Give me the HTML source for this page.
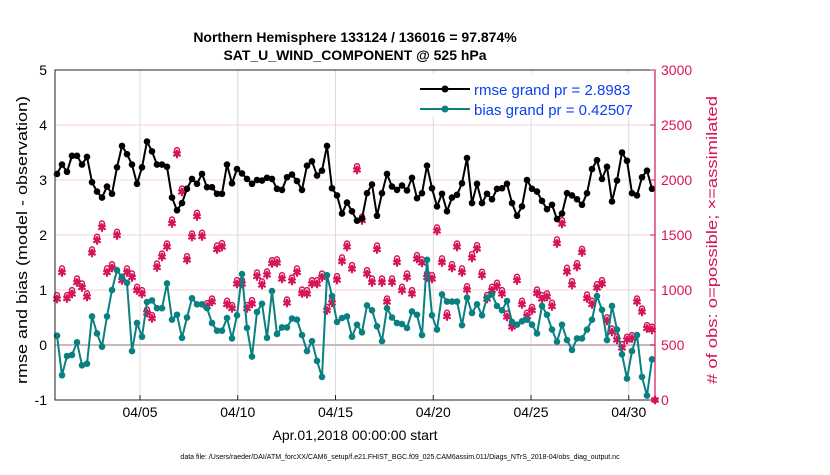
<!DOCTYPE html>
<html><head><meta charset="utf-8"><style>
body{margin:0;background:#fff;}
svg text{font-family:"Liberation Sans",Arial,sans-serif;}
</style></head><body>
<svg id="chart" width="830" height="470" viewBox="0 0 830 470" xmlns="http://www.w3.org/2000/svg">
<text x="355" y="42" text-anchor="middle" font-size="14" font-weight="bold">Northern Hemisphere 133124 / 136016 = 97.874%</text>
<text x="355" y="60" text-anchor="middle" font-size="14" font-weight="bold">SAT_U_WIND_COMPONENT @ 525 hPa</text>
<g id="grid"></g>
<g id="marks"></g>
<g id="axes"></g>
<text transform="translate(27,240) rotate(-90)" text-anchor="middle" font-size="15" textLength="288" lengthAdjust="spacingAndGlyphs">rmse and bias (model - observation)</text>
<text transform="translate(717,240) rotate(-90)" text-anchor="middle" font-size="15" textLength="288" lengthAdjust="spacingAndGlyphs" fill="#d6145a"># of obs: o=possible; ×=assimilated</text>
<text x="355" y="440" text-anchor="middle" font-size="14">Apr.01,2018 00:00:00 start</text>
<text x="400" y="459" text-anchor="middle" font-size="7">data file: /Users/raeder/DAI/ATM_forcXX/CAM6_setup/f.e21.FHIST_BGC.f09_025.CAM6assim.011/Diags_NTrS_2018-04/obs_diag_output.nc</text>
<g>
<rect x="415" y="74" width="227" height="42" fill="#fff" stroke="#fff"/>
<line x1="420" y1="89" x2="470" y2="89" stroke="#000" stroke-width="2"/>
<circle cx="445" cy="89" r="3.5" fill="#000"/>
<text x="474" y="95" font-size="15" fill="#0a3ff5">rmse grand pr = 2.8983</text>
<line x1="420" y1="109" x2="470" y2="109" stroke="#0a8080" stroke-width="2"/>
<circle cx="445" cy="109" r="3.5" fill="#0a8080"/>
<text x="474" y="115" font-size="15" fill="#0a3ff5">bias grand pr = 0.42507</text>
</g>
</svg>
<script>
const rmseValues=[3.11,3.28,3.15,3.44,3.44,3.28,3.42,2.96,2.79,2.68,2.88,2.75,3.23,3.62,3.47,3.28,2.93,3.23,3.70,3.52,3.28,3.28,3.24,2.68,2.45,2.58,2.84,3.02,2.93,3.11,2.87,
2.87,2.75,2.75,3.28,2.94,3.20,3.12,3.02,2.93,3.00,2.99,3.04,3.02,2.84,2.82,3.05,3.10,2.98,2.82,3.26,3.34,3.08,3.17,3.62,2.85,2.72,2.39,2.59,2.43,2.26,
2.30,2.76,2.92,2.35,2.76,3.11,2.88,2.82,2.90,2.81,3.04,2.67,2.76,3.26,2.85,2.52,2.75,2.43,2.68,2.73,2.94,3.40,2.58,2.93,2.58,2.75,2.65,2.84,2.85,2.93,
2.58,2.35,2.52,3.00,2.84,2.79,2.62,2.47,2.55,2.29,2.39,2.76,2.72,2.65,2.55,2.76,3.20,3.36,3.02,3.24,2.61,2.99,3.50,3.35,2.76,2.72,3.05,3.17,2.84];
const biasValues=[0.17,-0.55,-0.2,-0.18,0.05,-0.37,-0.34,0.52,0.21,-0.03,0.52,1.0,1.36,1.23,1.13,-0.11,0.4,0.15,0.78,0.81,0.67,0.67,1.12,0.46,0.55,0.13,0.5,0.85,0.74,0.74,0.67,
0.40,0.26,0.26,0.49,0.12,0.54,1.29,0.31,-0.21,0.60,0.75,0.13,0.98,0.20,0.32,0.32,0.48,0.46,0.18,-0.11,0.07,-0.29,-0.58,1.27,0.89,0.42,0.49,0.52,0.15,0.37,
0.23,0.72,0.63,0.34,0.07,0.67,0.50,0.40,0.38,0.31,0.61,0.55,0.18,1.55,0.54,0.28,0.92,0.79,0.79,0.79,0.36,0.86,0.58,0.74,0.54,0.86,0.92,0.71,0.63,0.80,
0.42,0.37,0.43,0.46,0.37,0.21,0.71,0.55,0.28,0.06,0.37,0.09,-0.09,0.12,0.12,0.28,0.46,0.89,0.64,0.09,0.71,0.28,-0.17,-0.61,-0.11,0.18,-0.58,-0.92,-0.26];
const obsPossible=[954,1197,954,1000,1106,1060,970,1370,1485,1606,1197,1236,1530,1121,1197,1151,1030,1000,824,773,1242,1333,1424,1642,2272,1924,1309,1515,1703,1521,882,
924,1406,1427,903,863,1091,1091,863,909,1160,1079,1170,1273,1279,1136,915,1115,1197,1006,1000,1091,1091,1151,848,915,1127,1297,1424,1227,2127,
1667,1182,1106,1406,1106,924,1106,1288,1030,1151,1000,1318,1279,1151,1136,1570,1288,794,1236,1424,1197,1036,1327,1409,1167,954,1030,1067,1000,788,
697,1121,903,794,848,1006,954,970,885,1461,1636,1203,1082,1245,1375,960,903,1054,1091,752,651,576,509,576,591,924,833,682,667,0];
const obsAssim=[920,1160,925,965,1070,1025,935,1335,1450,1570,1160,1200,1495,1085,1160,1115,995,965,790,740,1205,1300,1390,1605,2235,1890,1275,1480,1670,1485,848,
890,1370,1390,870,830,1055,1055,830,875,1125,1045,1135,1240,1245,1100,880,1080,1160,970,965,1055,1055,1115,815,880,1090,1260,1390,1190,2090,
1630,1145,1070,1370,1070,890,1070,1250,995,1115,965,1280,1245,1115,1100,1535,1250,760,1200,1390,1160,1000,1290,1375,1130,920,995,1030,965,755,
665,1085,870,760,815,970,920,935,850,1425,1600,1165,1045,1210,1340,925,870,1020,1055,720,620,545,475,545,560,890,800,650,635,0];
const leftTicks=[-1,0,1,2,3,4,5];
const rightTicks=[0,500,1000,1500,2000,2500,3000];
const dateTickDays=[5,10,15,20,25,30];
const dateTickLabels=["04/05","04/10","04/15","04/20","04/25","04/30"];

const L=55,R=655,T=70,B=400;
const yL=v=>B-(v+1)*(B-T)/6;
const yR=v=>B-v*(B-T)/3000;
const xI=i=>Math.min(57+i*(595/119),R);
const xD=d=>140+(d-5)*19.55;
const NS="http://www.w3.org/2000/svg";
function mk(parent,tag,attrs){const e=document.createElementNS(NS,tag);for(const k in attrs)e.setAttribute(k,attrs[k]);document.getElementById(parent).appendChild(e);return e;}

leftTicks.forEach(v=>{
 const g=mk('grid','line',{x1:L,x2:R,y1:yL(v),y2:yL(v),stroke:'#f5cfe0','stroke-width':1});
 
 
});
dateTickDays.forEach(d=>{
 const g=mk('grid','line',{x1:xD(d),x2:xD(d),y1:T,y2:B,stroke:'#dcdcdc','stroke-width':1});
 
 
});
const zl=mk('grid','line',{x1:L,x2:R,y1:yL(0),y2:yL(0),stroke:'#c9b8bd','stroke-width':2});



obsPossible.forEach((v,i)=>{
 const a=obsAssim[i];
 const s=mk('marks','text',{x:xI(i),y:yR(a)+4,'text-anchor':'middle','font-size':11,'font-weight':'bold',fill:'#d6145a'});
 s.textContent='✱';
 
 
 const c=mk('marks','circle',{cx:xI(i),cy:yR(v),r:2.4,fill:'none',stroke:'#d6145a','stroke-width':1.5});
 
 
});
function series(vals,color,name){
 const p=mk('marks','polyline',{points:vals.map((v,i)=>xI(i)+','+yL(v)).join(' '),fill:'none',stroke:color,'stroke-width':2});
 
 
 vals.forEach((v,i)=>{
  const c=mk('marks','circle',{cx:xI(i),cy:yL(v),r:3.3,fill:color});
  
  
 });
}
series(biasValues,'#0a8080','bias');
series(rmseValues,'#000','rmse');

const box=mk('axes','rect',{x:L,y:T,width:R-L,height:B-T,fill:'none',stroke:'#222','stroke-width':1});


const rax=mk('axes','line',{x1:R,x2:R,y1:T,y2:B,stroke:'#d6145a','stroke-width':1.2});


leftTicks.forEach(v=>{
 const t=mk('axes','text',{x:L-8,y:yL(v)+5,'text-anchor':'end','font-size':14});
 t.textContent=v;
 
 
});
rightTicks.forEach(v=>{
 const tk=mk('axes','line',{x1:R-5,x2:R,y1:yR(v),y2:yR(v),stroke:'#d6145a'});
 
 
 const t=mk('axes','text',{x:R+6,y:yR(v)+5,'font-size':14,fill:'#d6145a'});
 t.textContent=v;
 
 
});
dateTickDays.forEach((d,k)=>{
 const tk=mk('axes','line',{x1:xD(d),x2:xD(d),y1:B-5,y2:B,stroke:'#222'});
 
 
 const t=mk('axes','text',{x:xD(d),y:B+17,'text-anchor':'middle','font-size':14});
 t.textContent=dateTickLabels[k];
 
 
});
</script>
</body></html>
